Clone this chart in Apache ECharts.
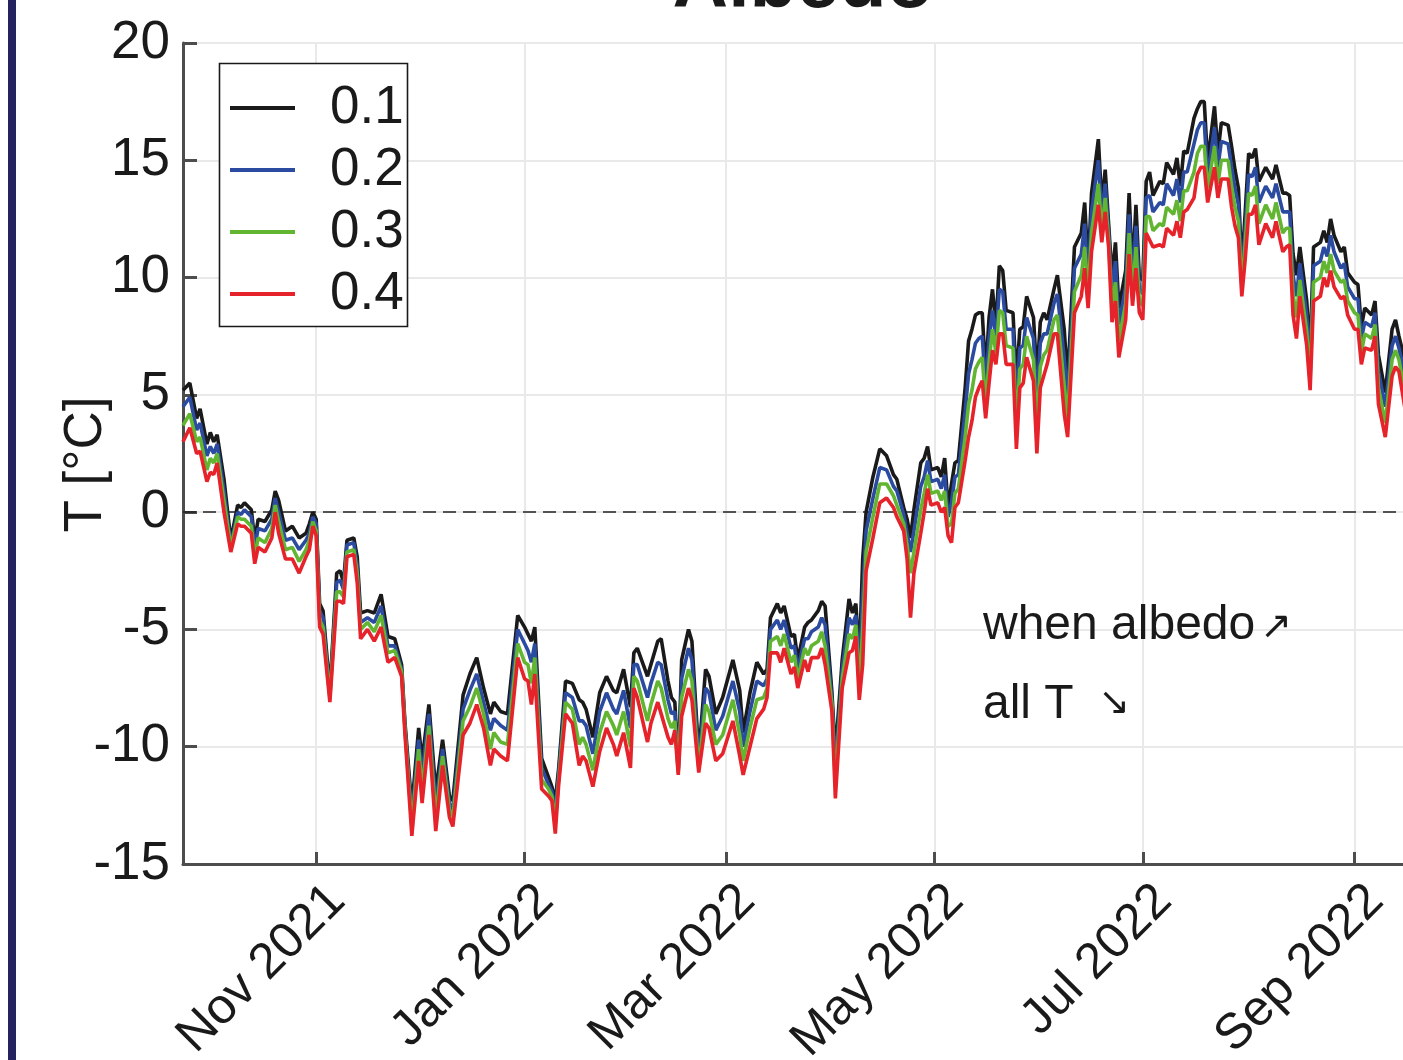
<!DOCTYPE html>
<html>
<head>
<meta charset="utf-8">
<script src="https://cdn.jsdelivr.net/npm/echarts@6/dist/echarts.min.js"></script>
<style>
html,body{margin:0;padding:0;background:#fff;}
#chart{width:1403px;height:1060px;}
</style>
</head>
<body>
<div id="chart"></div>
<script>
// ---------------- DATA ----------------
const seriesNames = ['0.1', '0.2', '0.3', '0.4'];
const dates = [
'2021-09-23','2021-09-25','2021-09-27','2021-09-28','2021-09-30','2021-10-01','2021-10-02','2021-10-03','2021-10-05','2021-10-07',
'2021-10-09','2021-10-10','2021-10-11','2021-10-13','2021-10-14','2021-10-15','2021-10-17','2021-10-19','2021-10-20','2021-10-21',
'2021-10-23','2021-10-25','2021-10-27','2021-10-29','2021-10-30','2021-10-31','2021-11-01','2021-11-02','2021-11-03','2021-11-05',
'2021-11-07','2021-11-08','2021-11-09','2021-11-10','2021-11-12','2021-11-13','2021-11-14','2021-11-16','2021-11-18','2021-11-20',
'2021-11-22','2021-11-24','2021-11-26','2021-11-27','2021-11-29','2021-12-01','2021-12-02','2021-12-04','2021-12-06','2021-12-08',
'2021-12-10','2021-12-11','2021-12-14','2021-12-16','2021-12-18','2021-12-20','2021-12-22','2021-12-23','2021-12-25','2021-12-27',
'2021-12-30','2022-01-01','2022-01-02','2022-01-03','2022-01-04','2022-01-06','2022-01-08','2022-01-09','2022-01-10','2022-01-11',
'2022-01-13','2022-01-15','2022-01-17','2022-01-18','2022-01-19','2022-01-21','2022-01-23','2022-01-25','2022-01-27','2022-01-28',
'2022-01-30','2022-02-01','2022-02-02','2022-02-03','2022-02-06','2022-02-07','2022-02-09','2022-02-10','2022-02-12','2022-02-13',
'2022-02-14','2022-02-15','2022-02-16','2022-02-18','2022-02-19','2022-02-21','2022-02-23','2022-02-24','2022-02-26','2022-02-28',
'2022-03-03','2022-03-05','2022-03-06','2022-03-08','2022-03-10','2022-03-12','2022-03-13','2022-03-14','2022-03-16','2022-03-17',
'2022-03-18','2022-03-20','2022-03-21','2022-03-22','2022-03-24','2022-03-25','2022-03-26','2022-03-28','2022-03-29','2022-03-30',
'2022-04-01','2022-04-02','2022-04-04','2022-04-06','2022-04-07','2022-04-08','2022-04-09','2022-04-10','2022-04-11','2022-04-13',
'2022-04-15','2022-04-17','2022-04-19','2022-04-20','2022-04-22','2022-04-23','2022-04-24','2022-04-25','2022-04-27','2022-04-28',
'2022-04-29','2022-04-30','2022-05-02','2022-05-03','2022-05-04','2022-05-05','2022-05-06','2022-05-07','2022-05-08','2022-05-10',
'2022-05-11','2022-05-12','2022-05-13','2022-05-14','2022-05-15','2022-05-16','2022-05-17','2022-05-18','2022-05-19','2022-05-20',
'2022-05-21','2022-05-22','2022-05-24','2022-05-25','2022-05-26','2022-05-27','2022-05-28','2022-05-30','2022-05-31','2022-06-01',
'2022-06-02','2022-06-03','2022-06-05','2022-06-06','2022-06-08','2022-06-09','2022-06-11','2022-06-13','2022-06-14','2022-06-15',
'2022-06-16','2022-06-18','2022-06-19','2022-06-20','2022-06-21','2022-06-22','2022-06-23','2022-06-24','2022-06-26','2022-06-27',
'2022-06-28','2022-06-29','2022-06-30','2022-07-01','2022-07-02','2022-07-03','2022-07-04','2022-07-06','2022-07-07','2022-07-08',
'2022-07-10','2022-07-11','2022-07-12','2022-07-13','2022-07-14','2022-07-16','2022-07-17','2022-07-18','2022-07-19','2022-07-20',
'2022-07-22','2022-07-23','2022-07-24','2022-07-26','2022-07-27','2022-07-28','2022-07-29','2022-07-30','2022-07-31','2022-08-01',
'2022-08-02','2022-08-03','2022-08-04','2022-08-06','2022-08-08','2022-08-09','2022-08-11','2022-08-12','2022-08-13','2022-08-14',
'2022-08-15','2022-08-16','2022-08-18','2022-08-19','2022-08-20','2022-08-22','2022-08-23','2022-08-24','2022-08-25','2022-08-26',
'2022-08-28','2022-08-29','2022-08-30','2022-09-01','2022-09-02','2022-09-03','2022-09-04','2022-09-06','2022-09-07','2022-09-08',
'2022-09-10','2022-09-12','2022-09-13','2022-09-14','2022-09-16','2022-09-17'
];
// albedo 0.1
const t01 = [
5.2,5.5,4.0,4.4,2.9,3.4,3.0,3.3,1.4,-1.2,
0.3,0.2,0.4,0.1,-1.2,-0.3,-0.4,0.1,0.9,0.5,
-0.8,-0.6,-1.1,-0.9,-0.5,0.0,-0.3,-3.9,-4.2,-7.6,
-2.6,-2.5,-3.0,-1.2,-1.1,-1.9,-4.3,-4.2,-4.3,-3.5,
-5.3,-5.4,-6.5,-9.0,-12.6,-9.2,-10.6,-8.2,-11.9,-9.7,
-12.1,-12.3,-7.8,-6.9,-6.2,-7.5,-8.6,-8.1,-8.5,-8.6,
-4.4,-4.9,-5.2,-5.5,-4.9,-10.5,-11.3,-11.7,-12.3,-10.9,
-7.2,-7.3,-8.0,-8.1,-8.4,-9.6,-7.7,-7.0,-7.6,-7.7,
-6.7,-8.3,-6.0,-5.8,-7.0,-6.5,-5.5,-5.4,-7.2,-7.9,
-8.1,-10.9,-6.3,-5.0,-5.5,-10.4,-6.7,-7.0,-8.6,-7.9,
-6.3,-7.6,-9.4,-7.7,-6.4,-6.9,-6.7,-4.5,-3.9,-4.3,
-4.0,-5.3,-5.2,-6.3,-4.9,-4.7,-4.6,-4.2,-3.8,-4.0,
-7.7,-10.3,-6.3,-3.7,-4.3,-3.9,-6.3,-2.0,0.0,1.5,
2.7,2.4,1.6,1.4,0.2,-0.3,-1.1,0.1,2.1,2.3,
2.8,1.8,1.9,1.5,2.3,0.2,1.2,2.1,2.2,5.3,
7.3,7.8,8.4,8.5,8.5,5.9,8.3,9.5,7.9,10.5,
10.3,8.6,8.5,5.6,7.8,7.9,9.2,8.3,5.8,8.1,
8.5,8.2,9.5,10.1,7.8,5.6,11.3,11.9,13.2,10.4,
13.6,15.9,13.1,14.6,12.3,10.0,11.5,8.7,10.3,13.6,
10.2,13.1,10.0,9.9,14.1,14.5,13.5,14.1,14.0,14.9,
14.4,15.1,13.9,15.4,15.3,16.8,17.2,17.5,17.5,14.9,
17.3,15.3,16.6,16.5,15.6,14.6,13.8,10.4,12.8,15.3,
15.1,15.5,14.1,14.7,14.2,14.8,13.6,13.6,13.5,11.0,
10.1,11.3,9.0,6.8,11.3,11.5,12.0,11.5,12.5,11.8,
11.1,11.3,10.2,9.8,9.7,7.9,8.7,8.4,9.0,6.7,
5.1,7.8,8.2,7.5,6.3,6.0
];
// albedo 0.2
const t02 = [
4.5,4.9,3.5,3.8,2.4,2.8,2.5,2.9,0.9,-1.4,
0.0,-0.1,0.1,-0.2,-1.5,-0.7,-0.8,-0.3,0.6,0.0,
-1.2,-1.1,-1.6,-1.2,-0.9,-0.2,-0.5,-4.2,-4.5,-7.8,
-3.0,-2.9,-3.3,-1.4,-1.3,-2.3,-4.7,-4.5,-4.7,-4.0,
-5.7,-5.7,-6.7,-9.2,-13.0,-9.7,-11.2,-8.6,-12.5,-10.1,
-12.4,-12.7,-8.4,-7.6,-6.9,-8.1,-9.3,-8.8,-9.1,-9.3,
-5.0,-5.6,-5.9,-6.4,-5.6,-10.9,-11.6,-11.9,-12.8,-11.1,
-7.7,-7.9,-8.9,-8.9,-9.1,-10.3,-8.5,-7.7,-8.4,-8.6,
-7.6,-9.2,-6.5,-6.5,-7.9,-7.3,-6.4,-6.5,-8.0,-8.6,
-8.5,-11.0,-7.1,-5.8,-6.3,-10.6,-7.5,-7.7,-9.3,-8.7,
-7.2,-8.5,-10.0,-8.5,-7.2,-7.4,-7.1,-5.0,-4.6,-5.0,
-4.6,-5.8,-5.7,-6.7,-5.4,-5.4,-5.1,-4.9,-4.5,-4.8,
-8.0,-10.9,-6.7,-4.5,-4.8,-4.4,-6.9,-3.5,-0.8,0.6,
1.9,1.8,1.1,0.9,-0.1,-0.9,-1.7,-0.8,1.1,1.5,
2.2,1.3,1.4,1.0,1.6,-0.2,0.4,1.5,1.6,4.3,
5.9,6.5,7.2,7.4,7.5,5.3,7.4,8.6,7.4,9.5,
9.4,7.8,7.8,4.6,7.0,7.1,8.3,7.4,4.7,7.2,
7.6,7.6,8.9,9.3,6.6,4.8,10.4,11.0,12.3,9.8,
12.8,15.0,12.6,14.0,12.0,9.4,10.7,8.0,9.6,12.7,
9.7,12.2,9.5,9.3,13.4,13.5,12.8,13.2,13.1,14.0,
13.5,14.2,13.2,14.5,14.5,15.7,16.3,16.6,16.6,14.3,
16.4,14.7,15.8,15.7,14.7,13.8,13.1,10.0,12.1,14.4,
14.3,14.7,13.2,13.9,13.4,14.0,12.8,12.8,12.8,10.1,
9.2,10.6,8.4,6.3,10.5,10.7,11.3,10.9,11.8,11.1,
10.4,10.6,9.6,9.1,9.1,7.4,8.1,7.9,8.5,6.0,
4.5,7.1,7.5,7.0,5.6,5.3
];
// albedo 0.3
const t03 = [
3.7,4.2,3.0,3.2,1.8,2.3,2.1,2.5,0.5,-1.5,
-0.2,-0.3,-0.3,-0.6,-1.9,-1.1,-1.3,-0.7,0.3,-0.4,
-1.6,-1.5,-2.1,-1.6,-1.2,-0.4,-0.8,-4.6,-4.9,-7.9,
-3.4,-3.4,-3.6,-1.7,-1.6,-2.6,-5.0,-4.7,-5.1,-4.4,
-6.0,-5.9,-6.8,-9.3,-13.4,-10.1,-11.8,-9.1,-13.0,-10.4,
-12.7,-13.0,-8.9,-8.3,-7.5,-8.6,-10.1,-9.4,-9.8,-9.9,
-5.6,-6.4,-6.5,-7.3,-6.2,-11.4,-11.8,-12.1,-13.2,-11.4,
-8.1,-8.4,-9.9,-9.6,-9.9,-11.0,-9.4,-8.5,-9.1,-9.5,
-8.5,-10.0,-7.0,-7.2,-8.9,-8.2,-7.2,-7.5,-8.8,-9.2,
-8.9,-11.1,-7.9,-6.7,-7.2,-10.9,-8.2,-8.5,-9.9,-9.5,
-8.0,-9.5,-10.6,-9.2,-8.0,-7.9,-7.5,-5.5,-5.3,-5.7,
-5.2,-6.4,-6.1,-7.1,-5.8,-6.1,-5.7,-5.5,-5.1,-5.7,
-8.2,-11.6,-7.1,-5.2,-5.4,-4.8,-7.4,-5.0,-1.7,-0.2,
1.2,1.2,0.7,0.3,-0.5,-1.4,-2.6,-1.7,0.1,0.8,
1.6,0.8,0.9,0.5,0.9,-0.6,-0.5,0.8,1.0,3.2,
4.6,5.2,6.1,6.4,6.6,4.6,6.4,7.8,6.8,8.6,
8.5,7.1,7.0,3.7,6.1,6.3,7.5,6.5,3.6,6.2,
6.7,6.9,8.2,8.4,5.4,4.0,9.4,10.1,11.3,9.3,
11.9,14.0,12.0,13.4,11.6,8.7,9.8,7.3,8.9,11.9,
9.3,11.3,9.0,8.8,12.6,12.6,12.0,12.3,12.2,13.0,
12.7,13.3,12.4,13.7,13.7,14.5,15.3,15.6,15.6,13.8,
15.6,14.0,15.0,15.0,13.9,13.0,12.4,9.6,11.5,13.6,
13.5,13.9,12.3,13.1,12.5,13.2,11.9,12.1,12.1,9.3,
8.3,9.9,7.7,5.7,9.8,10.0,10.7,10.2,11.0,10.3,
9.8,9.9,9.0,8.5,8.4,6.8,7.6,7.4,8.0,5.3,
3.8,6.5,6.9,6.5,4.9,4.7
];
// albedo 0.4
const t04 = [
3.0,3.6,2.5,2.6,1.3,1.7,1.6,2.1,0.0,-1.7,
-0.5,-0.6,-0.6,-0.9,-2.2,-1.5,-1.7,-1.1,0.0,-0.9,
-2.0,-2.0,-2.6,-1.9,-1.6,-0.6,-1.0,-4.9,-5.2,-8.1,
-3.8,-3.8,-3.9,-1.9,-1.8,-3.0,-5.4,-5.0,-5.5,-4.9,
-6.4,-6.2,-7.0,-9.5,-13.8,-10.6,-12.4,-9.5,-13.6,-10.8,
-13.0,-13.4,-9.5,-9.0,-8.2,-9.2,-10.8,-10.1,-10.4,-10.6,
-6.2,-7.1,-7.2,-8.2,-6.9,-11.8,-12.1,-12.3,-13.7,-11.6,
-8.6,-9.0,-10.8,-10.4,-10.6,-11.7,-10.2,-9.2,-9.9,-10.4,
-9.4,-10.9,-7.5,-7.9,-9.8,-9.0,-8.1,-8.6,-9.6,-9.9,
-9.3,-11.2,-8.7,-7.5,-8.0,-11.1,-9.0,-9.2,-10.6,-10.3,
-8.9,-10.4,-11.2,-10.0,-8.8,-8.4,-7.9,-6.0,-6.0,-6.4,
-5.8,-6.9,-6.6,-7.5,-6.3,-6.8,-6.2,-6.2,-5.8,-6.5,
-8.5,-12.2,-7.5,-6.0,-5.9,-5.3,-8.0,-6.5,-2.5,-1.1,
0.4,0.6,0.2,-0.2,-0.8,-2.0,-4.5,-2.6,-0.9,0.0,
1.0,0.3,0.4,0.0,0.2,-1.0,-1.3,0.2,0.4,2.2,
3.2,3.9,4.9,5.3,5.6,4.0,5.5,6.9,6.3,7.6,
7.6,6.3,6.3,2.7,5.3,5.5,6.6,5.6,2.5,5.3,
5.8,6.3,7.6,7.6,4.2,3.2,8.5,9.2,10.4,8.7,
11.1,13.1,11.5,12.8,11.3,8.1,9.0,6.6,8.2,11.0,
8.8,10.4,8.5,8.2,11.9,11.6,11.3,11.4,11.3,12.1,
11.8,12.4,11.7,12.8,12.9,13.4,14.4,14.7,14.7,13.2,
14.7,13.4,14.2,14.2,13.0,12.2,11.7,9.2,10.8,12.7,
12.7,13.1,11.4,12.3,11.7,12.4,11.1,11.3,11.4,8.4,
7.4,9.2,7.1,5.2,9.0,9.2,10.0,9.6,10.3,9.6,
9.1,9.2,8.4,7.8,7.8,6.3,7.0,6.9,7.5,4.6,
3.2,5.8,6.2,6.0,4.2,4.0
];
const seriesValues = [t01, t02, t03, t04];
const seriesColors = ['#1a1a1a', '#2a4ba0', '#62b530', '#e6222a'];
const monthTicks = ['2021-11-01', '2022-01-01', '2022-03-01', '2022-05-01', '2022-07-01', '2022-09-01'];
const monthNames = ['Jan','Feb','Mar','Apr','May','Jun','Jul','Aug','Sep','Oct','Nov','Dec'];
const xRange = ['2021-09-23', '2022-10-01'];
const yTicks = { min: -15, max: 20, step: 5 };

// ---------------- CHART ----------------
function toTime(s) { const p = s.split('-').map(Number); return new Date(p[0], p[1] - 1, p[2]).getTime(); }
const font = "'Liberation Sans', Arial, Helvetica, sans-serif";
const axisColor = '#4d4d4d';
const gridColor = '#e9e9e9';
const tickTimes = monthTicks.map(toTime);
const FS = 53;
const LW = 3.6;

const chart = echarts.init(document.getElementById('chart'), null, { renderer: 'canvas' });

const series = seriesNames.map((name, k) => ({
  name: name,
  type: 'line',
  data: dates.map((d, i) => [toTime(d), seriesValues[k][i]]),
  symbol: 'none',
  showSymbol: false,
  lineStyle: { color: seriesColors[k], width: LW },
  itemStyle: { color: seriesColors[k] },
  z: 2,
  animation: false,
  markLine: k === 0 ? {
    silent: true, symbol: 'none', z: 1, animation: false,
    label: { show: false },
    lineStyle: { color: '#222', width: 1.5, type: [13, 7] },
    data: [{ yAxis: 0 }]
  } : undefined
}));

// vertical grid lines at the labelled month ticks
series.push({
  name: 'vgrid', type: 'line', data: [], z: 0, silent: true, animation: false,
  markLine: {
    silent: true, symbol: 'none', z: 0, animation: false,
    label: { show: false },
    lineStyle: { color: gridColor, width: 2, type: 'solid' },
    data: tickTimes.map(t => ({ xAxis: t }))
  }
});

const option = {
  animation: false,
  backgroundColor: '#ffffff',
  grid: { left: 183, top: 43, width: 1274, height: 821, containLabel: false, outerBoundsMode: 'none' },
  xAxis: {
    type: 'value',
    min: toTime(xRange[0]),
    max: toTime(xRange[1]),
    axisLine: { show: true, onZero: false, lineStyle: { color: axisColor, width: 3 } },
    axisTick: { show: true, inside: true, length: 12, lineStyle: { color: axisColor, width: 3 },
                customValues: tickTimes },
    splitLine: { show: false },
    axisLabel: {
      customValues: tickTimes,
      rotate: 45,
      align: 'right',
      verticalAlign: 'top',
      margin: 8,
      fontSize: 50,
      lineHeight: 60,
      fontFamily: font,
      color: '#1a1a1a',
      hideOverlap: false,
      formatter: function (v) { const d = new Date(v); return monthNames[d.getMonth()] + ' ' + d.getFullYear(); }
    }
  },
  yAxis: {
    type: 'value',
    min: yTicks.min, max: yTicks.max, interval: yTicks.step,
    name: 'T [°C]',
    nameLocation: 'middle',
    nameRotate: 90,
    nameGap: 70,
    nameMoveOverlap: false,
    nameTextStyle: { fontSize: FS, fontFamily: font, color: '#1a1a1a', padding: [0, 22, 0, 0] },
    axisLine: { show: true, lineStyle: { color: axisColor, width: 3 } },
    axisTick: { show: true, inside: true, length: 14, lineStyle: { color: axisColor, width: 3 } },
    splitLine: { show: true, lineStyle: { color: gridColor, width: 2 } },
    axisLabel: { fontSize: FS, fontFamily: font, color: '#1a1a1a', margin: 13, lineHeight: 53, padding: [8, 0, 0, 0] }
  },
  legend: {
    show: true,
    orient: 'vertical',
    left: 230, top: 77,
    icon: 'rect',
    itemWidth: 65, itemHeight: 4, itemGap: 0,
    padding: 0,
    z: 10,
    data: seriesNames,
    textStyle: { fontSize: FS, fontFamily: font, color: '#1a1a1a', lineHeight: 62, padding: [0, 0, 0, 30] }
  },
  graphic: [
    { type: 'rect', z: 0, silent: true, shape: { x: 8, y: 0, width: 8, height: 1060 }, style: { fill: '#252260' } },
    { type: 'rect', z: 5, silent: true, shape: { x: 219.5, y: 63.5, width: 188, height: 263 },
      style: { fill: '#ffffff', stroke: '#1a1a1a', lineWidth: 1.6 } },
    { type: 'text', z: 5, silent: true, x: 803, y: -14,
      style: { text: 'Albedo', fontSize: 77, fontWeight: 'bold', fontFamily: font, fill: '#1a1a1a', align: 'center', verticalAlign: 'middle' } },
    { type: 'text', z: 5, silent: true, x: 983, y: 626,
      style: { text: 'when albedo', fontSize: 48, fontFamily: font, fill: '#1a1a1a', align: 'left', verticalAlign: 'middle' } },
    { type: 'text', z: 5, silent: true, x: 1276, y: 628,
      style: { text: '↗', fontSize: 38, fontFamily: "'DejaVu Sans', sans-serif", fill: '#1a1a1a', align: 'center', verticalAlign: 'middle' } },
    { type: 'text', z: 5, silent: true, x: 983, y: 705,
      style: { text: 'all T', fontSize: 48, fontFamily: font, fill: '#1a1a1a', align: 'left', verticalAlign: 'middle' } },
    { type: 'text', z: 5, silent: true, x: 1114, y: 704,
      style: { text: '↘', fontSize: 38, fontFamily: "'DejaVu Sans', sans-serif", fill: '#1a1a1a', align: 'center', verticalAlign: 'middle' } }
  ],
  series: series
};
chart.setOption(option);
</script>
</body>
</html>
